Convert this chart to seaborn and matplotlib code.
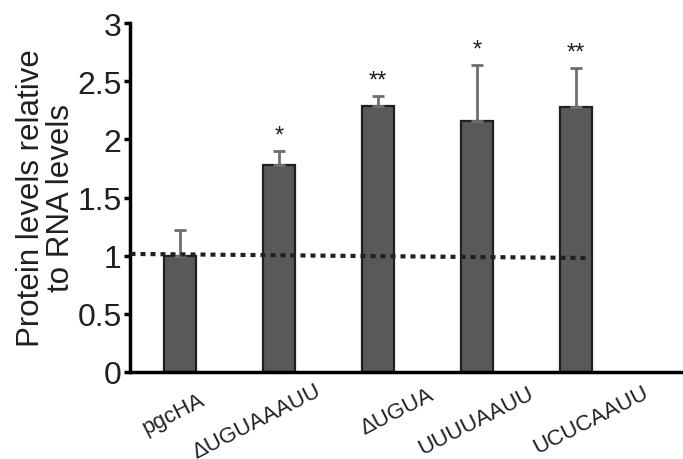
import matplotlib
matplotlib.use("Agg")
import matplotlib.pyplot as plt
import matplotlib.transforms as mtransforms
import seaborn as sns
import pandas as pd

categories = ["pgcHA", "\u0394UGUAAAUU", "\u0394UGUA", "UUUUAAUU", "UCUCAAUU"]
values = [1.00, 1.78, 2.29, 2.155, 2.275]
err_up = [0.22, 0.12, 0.08, 0.485, 0.335]
stars = ["", "*", "**", "*", "**"]
trend_x = [-0.5, 4.1]
trend_y = [1.015, 0.98]
yticks = [0, 0.5, 1, 1.5, 2, 2.5, 3]
ytick_labels = ["0", "0.5", "1", "1.5", "2", "2.5", "3"]

# layout: per-label nudges in pixels (dx right, dy down)
label_dx = [-6, -22, 19, -1, 15]
label_dy = [-3, 5, -5, 4, 3]

sns.set_theme(style="white")
plt.rcParams['font.family'] = ['Liberation Sans', 'DejaVu Sans']

df = pd.DataFrame({"cat": categories, "val": values})

fig = plt.figure(figsize=(6.83, 4.6), dpi=100)
ax = fig.add_axes([130/683, 1-373/460, 1-130/683, (373-24)/460])

sns.barplot(data=df, x="cat", y="val", ax=ax, color="#58595b",
            width=0.33, edgecolor="#231f20", linewidth=1.6, saturation=1, errorbar=None)

xs = list(range(len(categories)))
ax.errorbar(xs, values, yerr=[[0]*len(values), err_up], fmt="none",
            ecolor="#6d6e70", elinewidth=2, capsize=4, capthick=2, zorder=3)

for x, v, e, s in zip(xs, values, err_up, stars):
    if s:
        ax.text(x, v + e + 0.04, s, ha="center", va="bottom", fontsize=17, color="#231f20")

ax.plot(trend_x, trend_y, linestyle=(0, (1.2, 1.2)), color="#231f20", linewidth=3, zorder=4)

ax.set_ylim(0, 3)
ax.set_xlim(-0.505, 5.08)
ax.set_yticks(yticks)
ax.set_yticklabels(ytick_labels, fontsize=23, color="#231f20")
ax.tick_params(axis="y", direction="out", length=4, width=2.5, color="black", pad=2, left=True)
ax.tick_params(axis="x", length=0, pad=32)

ax.set_xlabel("")
ax.set_ylabel("Protein levels relative\nto RNA levels", fontsize=22.5, color="#231f20",
              linespacing=1.0, ha="center", va="center")
ax.yaxis.set_label_coords((46-130)/553, 0.50)

ax.set_xticks(xs)
ax.set_xticklabels(categories, fontsize=16, color="#231f20", rotation=27,
                   ha="center", va="center", rotation_mode="anchor")
for lab, dx, dy in zip(ax.get_xticklabels(), label_dx, label_dy):
    lab.set_transform(lab.get_transform() +
                      mtransforms.ScaledTranslation(dx/100, -dy/100, fig.dpi_scale_trans))

for side in ["top", "right"]:
    ax.spines[side].set_visible(False)
ax.spines["left"].set_linewidth(2.5)
ax.spines["bottom"].set_linewidth(2.5)
ax.spines["left"].set_color("black")
ax.spines["bottom"].set_color("black")

fig.savefig("out.png", dpi=100)
